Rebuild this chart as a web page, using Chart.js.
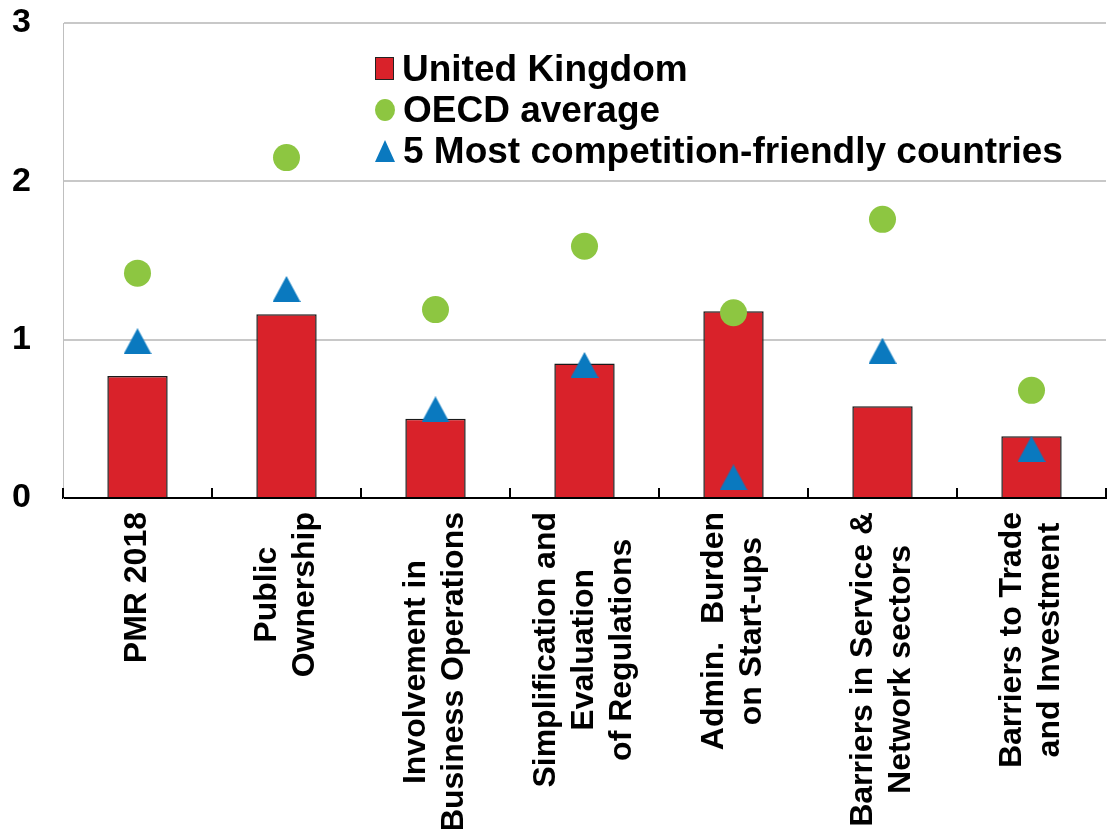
<!DOCTYPE html>
<html>
<head>
<meta charset="utf-8">
<script src="https://cdn.jsdelivr.net/npm/chart.js@4.4.1/dist/chart.umd.min.js"></script>
<style>
  html, body { margin: 0; padding: 0; background: #fff; overflow: hidden; }
  #wrap { position: relative; width: 1121px; height: 829px; }
  #legend {
    position: absolute; left: 375px; top: 48px;
    font: bold 37px "Liberation Sans", Arial, sans-serif; color: #000;
  }
  #legend .row { height: 41px; line-height: 41px; display: flex; align-items: center; white-space: nowrap; }
  #legend .mk { display: inline-block; margin-right: 8px; flex: none; }
  .sq { width: 19px; height: 23px; background: #D9222A; border: 1px solid #222; box-sizing: border-box; }
  .ci { width: 20px; height: 22px; border-radius: 50%; background: #8DC641; }
  .tr { width: 0; height: 0; border-left: 10px solid transparent; border-right: 10px solid transparent; border-bottom: 22px solid #0A79BF; }
</style>
</head>
<body>
<div id="wrap">
  <canvas id="pmrChart"></canvas>
  <div id="legend">
    <div class="row"><span class="mk sq"></span>United Kingdom</div>
    <div class="row"><span class="mk ci"></span>OECD average</div>
    <div class="row"><span class="mk tr"></span>5 Most competition-friendly countries</div>
  </div>
</div>
<script>
// data
const categories = [
    ['PMR 2018'],
    ['Public', 'Ownership'],
    ['Involvement in', 'Business Operations'],
    ['Simplification and', 'Evaluation', 'of Regulations'],
    ['Admin.  Burden', 'on Start-ups'],
    ['Barriers in Service &', 'Network sectors'],
    ['Barriers to Trade', 'and Investment']
];
const unitedKingdom = [0.77, 1.16, 0.50, 0.85, 1.18, 0.58, 0.39];
const oecdAverage = [1.42, 2.15, 1.19, 1.59, 1.17, 1.76, 0.68];
const top5Countries = [0.99, 1.32, 0.56, 0.84, 0.13, 0.93, 0.31];
const yTicks = [0, 1, 2, 3];

const FONT = '"Liberation Sans", Arial, sans-serif';

// triangle marker centred on its box (like the original)
function makeTriangle(w, h, color) {
    const c = document.createElement('canvas');
    c.width = w; c.height = h;
    const g = c.getContext('2d');
    g.fillStyle = color;
    g.beginPath();
    g.moveTo(w / 2, 0);
    g.lineTo(w, h);
    g.lineTo(0, h);
    g.closePath();
    g.fill();
    return c;
}
const triangle = makeTriangle(28, 26, '#0A79BF');

// rotated, centred multi-line category labels + inward tick marks on the x axis
const xAxisDecor = {
    id: 'xAxisDecor',
    afterDraw(chart) {
        const { ctx, chartArea, scales: { x } } = chart;
        const step = x.getPixelForValue(1) - x.getPixelForValue(0);
        ctx.save();
        ctx.strokeStyle = '#000';
        ctx.lineWidth = 2;
        for (let i = 0; i <= categories.length; i++) {
            const px = Math.round(x.getPixelForValue(0) - step / 2 + i * step);
            ctx.beginPath();
            ctx.moveTo(px, chartArea.bottom);
            ctx.lineTo(px, chartArea.bottom - 10);
            ctx.stroke();
        }
        ctx.fillStyle = '#000';
        ctx.font = 'bold 32px ' + FONT;
        ctx.textAlign = 'center';
        ctx.textBaseline = 'middle';
        const lh = 38;
        categories.forEach((lines, i) => {
            const maxW = Math.max(...lines.map(l => ctx.measureText(l).width));
            ctx.save();
            ctx.translate(x.getPixelForValue(i), chartArea.bottom + 14 + maxW / 2);
            ctx.rotate(-Math.PI / 2);
            lines.forEach((l, j) => {
                ctx.fillText(l, 0, (j - (lines.length - 1) / 2) * lh);
            });
            ctx.restore();
        });
        ctx.restore();
    }
};

const ctx = document.getElementById('pmrChart').getContext('2d');
const chart = new Chart(ctx, {
    type: 'bar',
    data: {
        labels: categories.map(c => c.join(' ')),
        datasets: [
            {
                label: 'United Kingdom',
                data: unitedKingdom,
                backgroundColor: '#D9222A',
                borderColor: '#1a1a1a',
                borderWidth: 1.5,
                categoryPercentage: 1,
                barPercentage: 0.405,
                order: 3
            },
            {
                type: 'line',
                label: 'OECD average',
                data: oecdAverage,
                showLine: false,
                pointStyle: 'circle',
                pointRadius: 13.5,
                pointBorderWidth: 0,
                pointBackgroundColor: '#8DC641',
                order: 2
            },
            {
                type: 'line',
                label: '5 Most competition-friendly countries',
                data: top5Countries,
                showLine: false,
                pointStyle: triangle,
                pointRadius: 14,
                order: 1
            }
        ]
    },
    options: {
        responsive: true,
        maintainAspectRatio: false,
        animation: false,
        layout: { padding: { top: 23, bottom: 331, left: 0, right: 0 } },
        plugins: {
            legend: { display: false },
            tooltip: { enabled: false }
        },
        scales: {
            x: {
                offset: true,
                grid: { display: false, drawTicks: false },
                border: { display: true, color: '#000', width: 2 },
                ticks: { display: false }
            },
            y: {
                min: yTicks[0],
                max: yTicks[yTicks.length - 1],
                afterFit: (scale) => {
                    scale.width = 63;
                    scale.paddingTop = 0;
                    scale.paddingBottom = 0;
                },
                afterBuildTicks: (scale) => { scale.ticks = yTicks.map(v => ({ value: v })); },
                grid: {
                    drawTicks: false,
                    lineWidth: 2,
                    color: (c) => c.tick && c.tick.value === 0 ? 'rgba(0,0,0,0)' : '#C8C8C8'
                },
                border: { color: '#BFBFBF', width: 1 },
                ticks: {
                    padding: 32,
                    color: '#000',
                    font: { family: FONT, size: 34, weight: 'bold' }
                }
            }
        }
    },
    plugins: [xAxisDecor]
});
</script>
</body>
</html>
